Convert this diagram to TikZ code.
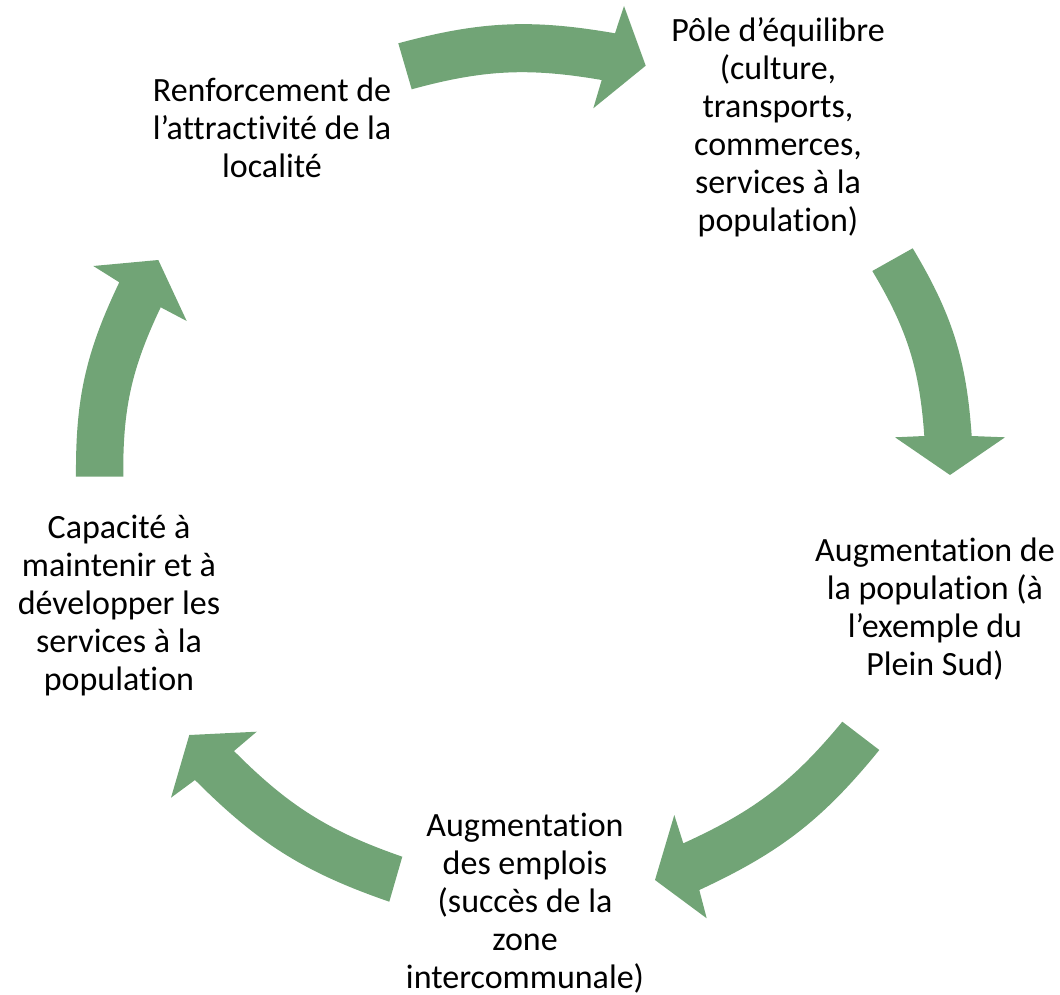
\documentclass[tikz,border=0pt]{standalone}
\usepackage{fontspec}
\setmainfont[Ligatures=NoCommon]{Carlito}
\definecolor{arrowgreen}{RGB}{113,164,118}
\tikzset{
  lbl/.style={align=center, text=black, inner sep=0pt, font=\fontsize{34}{38}\selectfont},
  cyclearrow/.style={fill=arrowgreen, draw=none}
}
% #1 tail outer, #2 outer notch, #3 outer head corner, #4 tip,
% #5 inner head corner, #6 inner notch, #7 tail inner, #8 bend
\newcommand{\blockarrow}[8]{%
  \fill[cyclearrow] #1 to[bend left=#8] #2 -- #3 -- #4 -- #5 -- #6 to[bend right=#8] #7 -- cycle;}
\begin{document}
\begin{tikzpicture}[x=1pt,y=-1pt]
\useasboundingbox (0,0) rectangle (1060,995);
% top arrow
\blockarrow{(398.3,43.3)}{(615,33.3)}{(624,6)}{(645.7,65.7)}{(593.3,108.3)}{(601.7,80)}{(411.7,89.3)}{12.5}
% right arrow
\blockarrow{(912.7,248.3)}{(971.7,436)}{(1005,437.3)}{(950,475)}{(895,437.3)}{(924.3,436)}{(872.3,271)}{13.5}
% bottom right arrow
\blockarrow{(879.3,750)}{(699.3,890)}{(706.7,918.3)}{(655,880)}{(674.3,815)}{(683.3,843.3)}{(842.3,721.7)}{13}
% bottom left arrow
\blockarrow{(389.3,901.7)}{(195,780)}{(171,797.7)}{(189.3,735)}{(256.7,731.7)}{(234,751)}{(402.3,856.7)}{13}
% left arrow
\blockarrow{(76,476.7)}{(119.3,282.3)}{(93.3,266)}{(158.3,260)}{(186.7,321)}{(160.7,307.3)}{(123.3,476.7)}{13}
\node[lbl] (pole) at (778,127) {Pôle d’équilibre\\(culture,\\transports,\\commerces,\\services à la\\population)};
\node[lbl] (augpop) at (935,609) {Augmentation de\\la population (à\\l’exemple du\\Plein Sud)};
\node[lbl] (augemp) at (525,903) {Augmentation\\des emplois\\(succès de la\\zone\\intercommunale)};
\node[lbl] (capa) at (119,606) {Capacité à\\maintenir et à\\développer les\\services à la\\population};
\node[lbl] (renf) at (272,128) {Renforcement de\\l’attractivité de la\\localité};
\end{tikzpicture}
\end{document}
